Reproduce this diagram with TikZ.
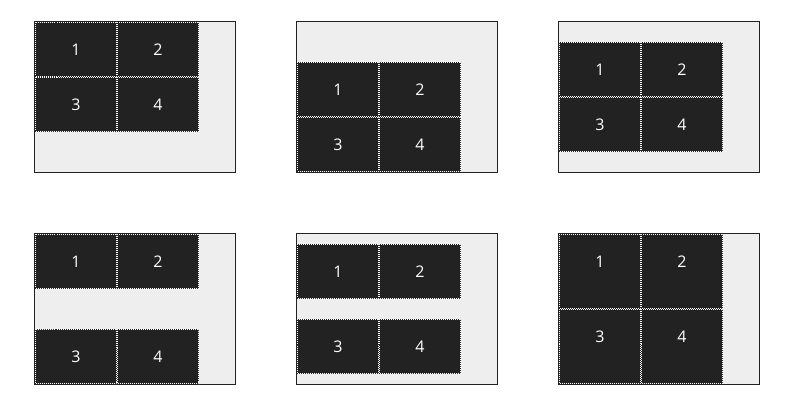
\documentclass[tikz,border=0pt]{standalone}
\usepackage{fontspec}
\setmainfont{Open Sans}
\usetikzlibrary{positioning}

\definecolor{panelbg}{HTML}{EEEEEE}
\definecolor{cellbg}{HTML}{222222}
\definecolor{frame}{HTML}{222222}

\begin{document}
\begin{tikzpicture}[
    x=1pt, y=-1pt,
    panel/.style={draw=frame, fill=panelbg, line width=1pt, anchor=north west, outer sep=0pt, inner sep=0pt, minimum width=201pt, minimum height=151pt},
    cell/.style={fill=cellbg, text=white, outer sep=0pt, inner sep=0pt, minimum width=82pt, minimum height=55pt, font=\fontsize{16}{19}\selectfont,
        path picture={\draw[white, line width=1pt, dash pattern=on 1pt off 1pt]
            ([shift={(0.5pt,-0.5pt)}]path picture bounding box.north west) rectangle
            ([shift={(-0.5pt,0.5pt)}]path picture bounding box.south east);}},
    % stretched cell keeps its label where a plain cell has it
    tall/.style={cell, minimum height=75pt, text height=11.5pt, text depth=20pt}
]
    \useasboundingbox (0,0) rectangle (792,411);

    % top row: flex-start, flex-end, center
    \node[panel] (p1) at (34.5,21.5) {};
    \node[cell, below right=0.5pt and 0.5pt of p1.north west] (a1) {1};
    \node[cell, right=0pt of a1] (a2) {2};
    \node[cell, below=0pt of a1] (a3) {3};
    \node[cell, right=0pt of a3] (a4) {4};

    \node[panel] (p2) at (296.5,21.5) {};
    \node[cell, below right=40.5pt and 0.5pt of p2.north west] (b1) {1};
    \node[cell, right=0pt of b1] (b2) {2};
    \node[cell, below=0pt of b1] (b3) {3};
    \node[cell, right=0pt of b3] (b4) {4};

    \node[panel] (p3) at (558.5,21.5) {};
    \node[cell, below right=20.5pt and 0.5pt of p3.north west] (c1) {1};
    \node[cell, right=0pt of c1] (c2) {2};
    \node[cell, below=0pt of c1] (c3) {3};
    \node[cell, right=0pt of c3] (c4) {4};

    % bottom row: space-between, space-around, stretch
    \node[panel] (p4) at (34.5,233.5) {};
    \node[cell, below right=0.5pt and 0.5pt of p4.north west] (d1) {1};
    \node[cell, right=0pt of d1] (d2) {2};
    \node[cell, below=40pt of d1] (d3) {3};
    \node[cell, right=0pt of d3] (d4) {4};

    \node[panel] (p5) at (296.5,233.5) {};
    \node[cell, below right=10.5pt and 0.5pt of p5.north west] (e1) {1};
    \node[cell, right=0pt of e1] (e2) {2};
    \node[cell, below=20pt of e1] (e3) {3};
    \node[cell, right=0pt of e3] (e4) {4};

    \node[panel] (p6) at (558.5,233.5) {};
    \node[tall, below right=0.5pt and 0.5pt of p6.north west] (f1) {1};
    \node[tall, right=0pt of f1] (f2) {2};
    \node[tall, below=0pt of f1] (f3) {3};
    \node[tall, right=0pt of f3] (f4) {4};
\end{tikzpicture}
\end{document}
